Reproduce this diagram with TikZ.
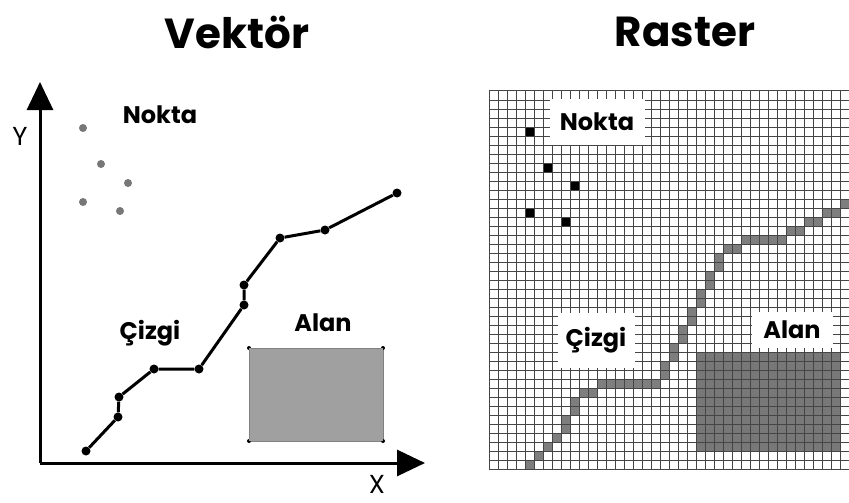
\documentclass[tikz,border=0pt]{standalone}
\usepackage{fontspec}
\setmainfont{Poppins}
\usetikzlibrary{arrows.meta}

\definecolor{dotgray}{HTML}{777777}
\definecolor{polygray}{HTML}{A0A0A0}
\definecolor{cellgray}{HTML}{7E7E7E}
\definecolor{gridgray}{HTML}{454545}

\tikzset{
	title/.style={font=\fontsize{42}{48}\selectfont\bfseries},
	lbl/.style={font=\fontsize{24}{28}\selectfont\bfseries},
	axlbl/.style={font=\fontsize{26}{30}\selectfont},
	vdot/.style={circle,fill=black,inner sep=0pt,minimum size=9pt},
	pdot/.style={circle,fill=dotgray,inner sep=0pt,minimum size=8pt},
	cdot/.style={circle,fill=black,inner sep=0pt,minimum size=4pt},
	pix/.style={rectangle,fill=black,inner sep=0pt,minimum size=8pt},
	tag/.style={lbl,fill=white,inner sep=0pt},
	axis/.style={line width=3pt,-{Triangle[length=28pt,width=26pt]}},
	vline/.style={line width=3pt},
}

\begin{document}
\begin{tikzpicture}[x=1pt,y=-1pt]
	\useasboundingbox (0,0) rectangle (849,503);

	\node[title] (vt) at (237,32) {Vektör};
	\node[title] (rt) at (685,32) {Raster};

	% vektor
	\begin{scope}
		\coordinate (o) at (40,463);
		\coordinate (ytip) at (40,82);
		\coordinate (xtip) at (425,463);
		\draw[axis] (o) -- (ytip);
		\draw[axis] (o) -- (xtip);
		\node[axlbl] (ylab) at (20,136) {Y};
		\node[axlbl] (xlab) at (377,484) {X};

		\node[lbl] (nv) at (160,115) {Nokta};
		\foreach \n/\x/\y in {1/83/128, 2/101/164, 3/128/183, 4/83/202, 5/120/211}
			\node[pdot] (p\n) at (\x,\y) {};

		\node[lbl] (cv) at (150,333) {Çizgi};
		\foreach \n/\x/\y in {1/86/451, 2/118/417, 3/119/397, 4/154/369, 5/199/369,
				6/244/305, 7/244/285, 8/280/238, 9/325/230, 10/397/193}
			\node[vdot] (v\n) at (\x,\y) {};
		\draw[vline] (v1) -- (v2) -- (v3) -- (v4) -- (v5) -- (v6) -- (v7) -- (v8) -- (v9) -- (v10);

		\node[lbl] (av) at (323,323) {Alan};
		\node[cdot] (a1) at (249,348) {};
		\node[cdot] (a2) at (383,348) {};
		\node[cdot] (a3) at (383,441) {};
		\node[cdot] (a4) at (249,441) {};
		\fill[polygray] (a1.center) rectangle (a3.center);
		\draw[polygray!80!black,line width=0.6pt] (a1) -- (a2) -- (a3) -- (a4) -- (a1);
	\end{scope}

	% raster
	\begin{scope}[shift={(489,91)}]
		\fill[cellgray!95!black] (23*9,29*9) rectangle (39*9,40*9);
		\foreach \c/\r in {4/41,5/40,6/39,7/38,8/37,8/36,9/35,9/34,10/33,11/33,
				12/32,13/32,14/32,15/32,16/32,17/32,18/32,19/31,19/30,20/29,20/28,
				21/27,21/26,22/25,22/24,23/23,23/22,24/21,24/20,25/19,25/18,26/17,
				27/17,28/16,29/16,30/16,31/16,32/16,33/15,34/15,35/14,36/14,37/13,
				38/13,39/12}
			\fill[cellgray] (9*\c,9*\r) rectangle +(9,9);
		\foreach \i in {0,...,40}
			\draw[gridgray,line width=1pt] (9*\i,0) -- (9*\i,378);
		\foreach \j in {0,...,42}
			\draw[gridgray,line width=1pt] (0,9*\j) -- (360,9*\j);

		\foreach \n/\c/\r in {1/4/4, 2/6/8, 3/9/10, 4/4/13, 5/8/14}
			\node[pix] (q\n) at (9*\c+4.5,9*\r+4.5) {};
	\end{scope}

	\node[tag,minimum width=95pt,minimum height=46pt] (nr) at (597,122) {Nokta};
	\node[tag,minimum width=77pt,minimum height=55pt] (cr) at (596,340) {Çizgi};
	\node[tag,minimum width=81pt,minimum height=36pt] (ar) at (792,330) {Alan};

\end{tikzpicture}
\end{document}
